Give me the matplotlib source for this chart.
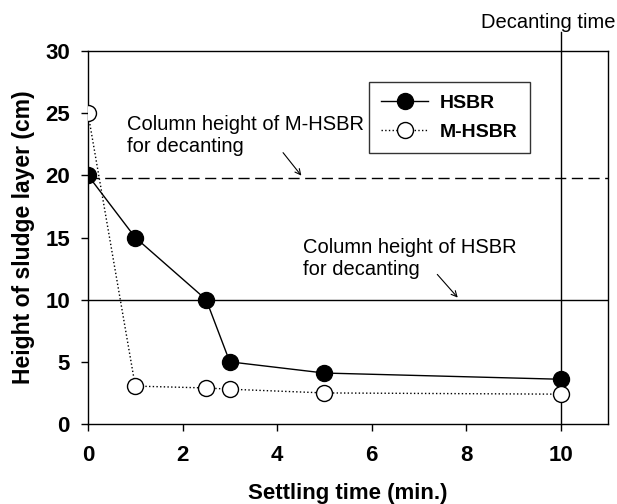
import matplotlib
matplotlib.use('Agg')
import matplotlib.pyplot as plt

plt.rcParams['font.family'] = ['Liberation Sans', 'DejaVu Sans']

tiempo = [0, 1, 2.5, 3, 5, 10]
hsbr = [20, 15, 10, 5, 4.1, 3.6]
mhsbr = [25, 3.05, 2.9, 2.8, 2.5, 2.4]

nivel_mhsbr = 19.8
nivel_hsbr = 10
t_decantacion = 10


def main():
    fig = plt.figure(figsize=(6.17, 5.04), dpi=100)
    ax = fig.add_axes([0.1426, 0.1587, 0.8428, 0.7401])

    ax.plot(tiempo, hsbr, color='black', lw=1, marker='o', ms=11.5,
            mfc='black', mec='black', label='HSBR', zorder=3)
    ax.plot(tiempo, mhsbr, color='black', lw=1, ls=':', marker='o', ms=11.5,
            mfc='white', mec='black', mew=1, label='M-HSBR', zorder=3)

    ax.axhline(nivel_mhsbr, color='black', lw=1, ls=(0, (8, 4)), zorder=1)
    ax.axhline(nivel_hsbr, color='black', lw=1, zorder=1)
    ax.plot([t_decantacion, t_decantacion], [0, 31.5], color='black', lw=1,
            clip_on=False, zorder=1)
    fig.text(0.998, 0.944, 'Decanting time', ha='right', va='baseline',
             fontsize=14.5)

    ax.annotate('Column height of M-HSBR\nfor decanting', xy=(4.55, 19.8),
                xytext=(0.83, 21.9), fontsize=14.5, va='baseline', ha='left',
                linespacing=1.2)
    ax.annotate('', xy=(4.55, 19.8), xytext=(4.09, 22.0),
                arrowprops=dict(arrowstyle='->', color='black', lw=0.8))
    ax.annotate('Column height of HSBR\nfor decanting', xy=(7.86, 10),
                xytext=(4.55, 12.0), fontsize=14.5, va='baseline', ha='left',
                linespacing=1.2)
    ax.annotate('', xy=(7.86, 10.0), xytext=(7.35, 12.2),
                arrowprops=dict(arrowstyle='->', color='black', lw=0.8))

    ax.set_xlim(0, 11)
    ax.set_ylim(0, 30)
    ax.set_xticks([0, 2, 4, 6, 8, 10])
    ax.set_yticks([0, 5, 10, 15, 20, 25, 30])
    ax.tick_params(direction='out', length=5, width=1, labelsize=16)
    ax.tick_params(axis='x', pad=10)
    ax.tick_params(axis='y', pad=8)
    for lbl in ax.get_xticklabels() + ax.get_yticklabels():
        lbl.set_fontweight('bold')
    for s in ax.spines.values():
        s.set_linewidth(1)

    ax.set_xlabel('Settling time (min.)', fontsize=16, fontweight='bold')
    ax.xaxis.set_label_coords(0.5, -0.157)
    ax.set_ylabel('Height of sludge layer (cm)', fontsize=16.5,
                  fontweight='bold', labelpad=7)

    leg = ax.legend(loc='upper left', bbox_to_anchor=(0.540, 0.917),
                    prop={'weight': 'bold', 'size': 14}, frameon=True,
                    fancybox=False, edgecolor='black', handlelength=2.4,
                    handletextpad=0.6, borderpad=0.65, labelspacing=0.55,
                    borderaxespad=0)
    leg.get_frame().set_linewidth(1)

    plt.savefig('out.png', dpi=100)


main()
